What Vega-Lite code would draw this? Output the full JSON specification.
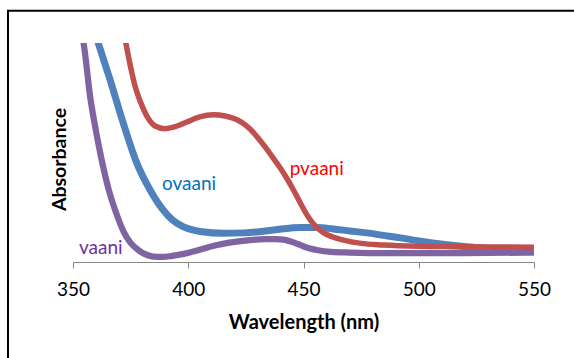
{
  "$schema": "https://vega.github.io/schema/vega-lite/v6.json",
  "width": 461,
  "height": 219,
  "autosize": {"type": "none"},
  "padding": {"left": 73, "top": 43, "right": 40, "bottom": 96},
  "background": "white",
  "config": {"view": {"stroke": null}, "font": "Lato"},
  "datasets": {
    "curves": [
      {"series": "ovaani", "nm": 359, "abs": 1.064},
      {"series": "ovaani", "nm": 360.8, "abs": 1.005},
      {"series": "ovaani", "nm": 366, "abs": 0.835},
      {"series": "ovaani", "nm": 371.7, "abs": 0.638},
      {"series": "ovaani", "nm": 377.6, "abs": 0.454},
      {"series": "ovaani", "nm": 383.4, "abs": 0.33},
      {"series": "ovaani", "nm": 389, "abs": 0.239},
      {"series": "ovaani", "nm": 393, "abs": 0.193},
      {"series": "ovaani", "nm": 397.7, "abs": 0.161},
      {"series": "ovaani", "nm": 406, "abs": 0.138},
      {"series": "ovaani", "nm": 415, "abs": 0.131},
      {"series": "ovaani", "nm": 424.5, "abs": 0.133},
      {"series": "ovaani", "nm": 438, "abs": 0.147},
      {"series": "ovaani", "nm": 448.5, "abs": 0.158},
      {"series": "ovaani", "nm": 456, "abs": 0.158},
      {"series": "ovaani", "nm": 462.8, "abs": 0.151},
      {"series": "ovaani", "nm": 470, "abs": 0.142},
      {"series": "ovaani", "nm": 477.4, "abs": 0.133},
      {"series": "ovaani", "nm": 492, "abs": 0.11},
      {"series": "ovaani", "nm": 506, "abs": 0.087},
      {"series": "ovaani", "nm": 520.8, "abs": 0.07},
      {"series": "ovaani", "nm": 535, "abs": 0.06},
      {"series": "ovaani", "nm": 550, "abs": 0.055},
      {"series": "vaani", "nm": 352.5, "abs": 1.087},
      {"series": "vaani", "nm": 354.5, "abs": 1.005},
      {"series": "vaani", "nm": 357.6, "abs": 0.743},
      {"series": "vaani", "nm": 360, "abs": 0.596},
      {"series": "vaani", "nm": 362.4, "abs": 0.468},
      {"series": "vaani", "nm": 365.5, "abs": 0.33},
      {"series": "vaani", "nm": 369, "abs": 0.216},
      {"series": "vaani", "nm": 372, "abs": 0.138},
      {"series": "vaani", "nm": 375, "abs": 0.087},
      {"series": "vaani", "nm": 378.3, "abs": 0.055},
      {"series": "vaani", "nm": 381, "abs": 0.037},
      {"series": "vaani", "nm": 384.8, "abs": 0.025},
      {"series": "vaani", "nm": 389, "abs": 0.023},
      {"series": "vaani", "nm": 393, "abs": 0.028},
      {"series": "vaani", "nm": 398, "abs": 0.037},
      {"series": "vaani", "nm": 403, "abs": 0.05},
      {"series": "vaani", "nm": 409.4, "abs": 0.07},
      {"series": "vaani", "nm": 415, "abs": 0.083},
      {"series": "vaani", "nm": 421, "abs": 0.093},
      {"series": "vaani", "nm": 428, "abs": 0.101},
      {"series": "vaani", "nm": 434, "abs": 0.104},
      {"series": "vaani", "nm": 438, "abs": 0.105},
      {"series": "vaani", "nm": 442, "abs": 0.101},
      {"series": "vaani", "nm": 445, "abs": 0.092},
      {"series": "vaani", "nm": 448.5, "abs": 0.078},
      {"series": "vaani", "nm": 452, "abs": 0.064},
      {"series": "vaani", "nm": 455.7, "abs": 0.055},
      {"series": "vaani", "nm": 462, "abs": 0.046},
      {"series": "vaani", "nm": 470, "abs": 0.043},
      {"series": "vaani", "nm": 485, "abs": 0.04},
      {"series": "vaani", "nm": 499, "abs": 0.04},
      {"series": "vaani", "nm": 520, "abs": 0.041},
      {"series": "vaani", "nm": 550, "abs": 0.043},
      {"series": "pvaani", "nm": 369.5, "abs": 1.18},
      {"series": "pvaani", "nm": 372.6, "abs": 1.018},
      {"series": "pvaani", "nm": 375, "abs": 0.89},
      {"series": "pvaani", "nm": 377, "abs": 0.8},
      {"series": "pvaani", "nm": 379.1, "abs": 0.735},
      {"series": "pvaani", "nm": 382, "abs": 0.667},
      {"series": "pvaani", "nm": 385.6, "abs": 0.621},
      {"series": "pvaani", "nm": 389.9, "abs": 0.609},
      {"series": "pvaani", "nm": 394, "abs": 0.617},
      {"series": "pvaani", "nm": 399.3, "abs": 0.639},
      {"series": "pvaani", "nm": 405, "abs": 0.663},
      {"series": "pvaani", "nm": 410.9, "abs": 0.672},
      {"series": "pvaani", "nm": 416, "abs": 0.667},
      {"series": "pvaani", "nm": 421, "abs": 0.651},
      {"series": "pvaani", "nm": 425, "abs": 0.624},
      {"series": "pvaani", "nm": 428.2, "abs": 0.592},
      {"series": "pvaani", "nm": 431, "abs": 0.557},
      {"series": "pvaani", "nm": 433.5, "abs": 0.523},
      {"series": "pvaani", "nm": 436.5, "abs": 0.48},
      {"series": "pvaani", "nm": 440, "abs": 0.428},
      {"series": "pvaani", "nm": 443, "abs": 0.378},
      {"series": "pvaani", "nm": 446, "abs": 0.322},
      {"series": "pvaani", "nm": 449, "abs": 0.262},
      {"series": "pvaani", "nm": 452, "abs": 0.207},
      {"series": "pvaani", "nm": 455, "abs": 0.166},
      {"series": "pvaani", "nm": 458.5, "abs": 0.135},
      {"series": "pvaani", "nm": 462, "abs": 0.117},
      {"series": "pvaani", "nm": 467, "abs": 0.101},
      {"series": "pvaani", "nm": 475, "abs": 0.085},
      {"series": "pvaani", "nm": 484.5, "abs": 0.078},
      {"series": "pvaani", "nm": 500, "abs": 0.072},
      {"series": "pvaani", "nm": 513.6, "abs": 0.07},
      {"series": "pvaani", "nm": 530, "abs": 0.069},
      {"series": "pvaani", "nm": 550, "abs": 0.067}
    ],
    "labels": [
      {"series": "ovaani", "nm": 388.6, "abs": 0.33},
      {"series": "pvaani", "nm": 444, "abs": 0.399},
      {"series": "vaani", "nm": 352.6, "abs": 0.037}
    ]
  },
  "layer": [
    {
      "data": {"values": [{}]},
      "mark": {"type": "rect", "filled": false, "stroke": "black", "strokeWidth": 2, "clip": false},
      "encoding": {
        "x": {"datum": 321.8, "type": "quantitative", "scale": {"domain": [350, 550], "nice": false, "zero": false}},
        "x2": {"datum": 580},
        "y": {"datum": 1.147, "type": "quantitative", "scale": {"domain": [0, 1], "nice": false}},
        "y2": {"datum": -0.6}
      }
    },
    {
      "data": {"name": "curves"},
      "mark": {"type": "line", "interpolate": "monotone", "clip": true, "strokeCap": "butt"},
      "encoding": {
        "x": {
          "field": "nm", "type": "quantitative",
          "scale": {"domain": [350, 550], "nice": false, "zero": false},
          "axis": {
            "values": [350, 400, 450, 500, 550],
            "title": "Wavelength (nm)",
            "grid": false,
            "domainColor": "#868686",
            "tickColor": "#868686",
            "tickSize": 6,
            "labelFont": "Lato",
            "labelFontSize": 19,
            "labelColor": "black",
            "labelPadding": 12,
            "labelFlush": false,
            "titleFont": "Lato",
            "titleFontSize": 20,
            "titleFontWeight": "bold",
            "titleColor": "black",
            "titlePadding": 13
          }
        },
        "y": {
          "field": "abs", "type": "quantitative",
          "scale": {"domain": [0, 1], "nice": false},
          "axis": {
            "title": "Absorbance",
            "labels": false,
            "ticks": false,
            "domain": false,
            "grid": false,
            "titleFont": "Lato",
            "titleFontSize": 19.5,
            "titleFontWeight": "bold",
            "titleColor": "black",
            "titleX": -14,
            "titleY": 116,
            "titleAngle": -90,
            "titleAlign": "center",
            "titleBaseline": "middle"
          }
        },
        "color": {
          "field": "series", "type": "nominal",
          "scale": {"domain": ["ovaani", "vaani", "pvaani"], "range": ["#4F81BD", "#8064A2", "#C0504D"]},
          "legend": null
        },
        "strokeWidth": {
          "field": "series", "type": "nominal",
          "scale": {"domain": ["ovaani", "vaani", "pvaani"], "range": [7, 5.5, 7]},
          "legend": null
        }
      }
    },
    {
      "data": {"name": "labels"},
      "mark": {"type": "text", "align": "left", "baseline": "alphabetic", "font": "Lato", "fontSize": 19},
      "encoding": {
        "x": {"field": "nm", "type": "quantitative"},
        "y": {"field": "abs", "type": "quantitative"},
        "text": {"field": "series"},
        "color": {
          "field": "series", "type": "nominal",
          "scale": {"domain": ["ovaani", "vaani", "pvaani"], "range": ["#0070C0", "#7030A0", "#FF0000"]},
          "legend": null
        }
      }
    }
  ],
  "resolve": {"scale": {"color": "independent"}}
}
